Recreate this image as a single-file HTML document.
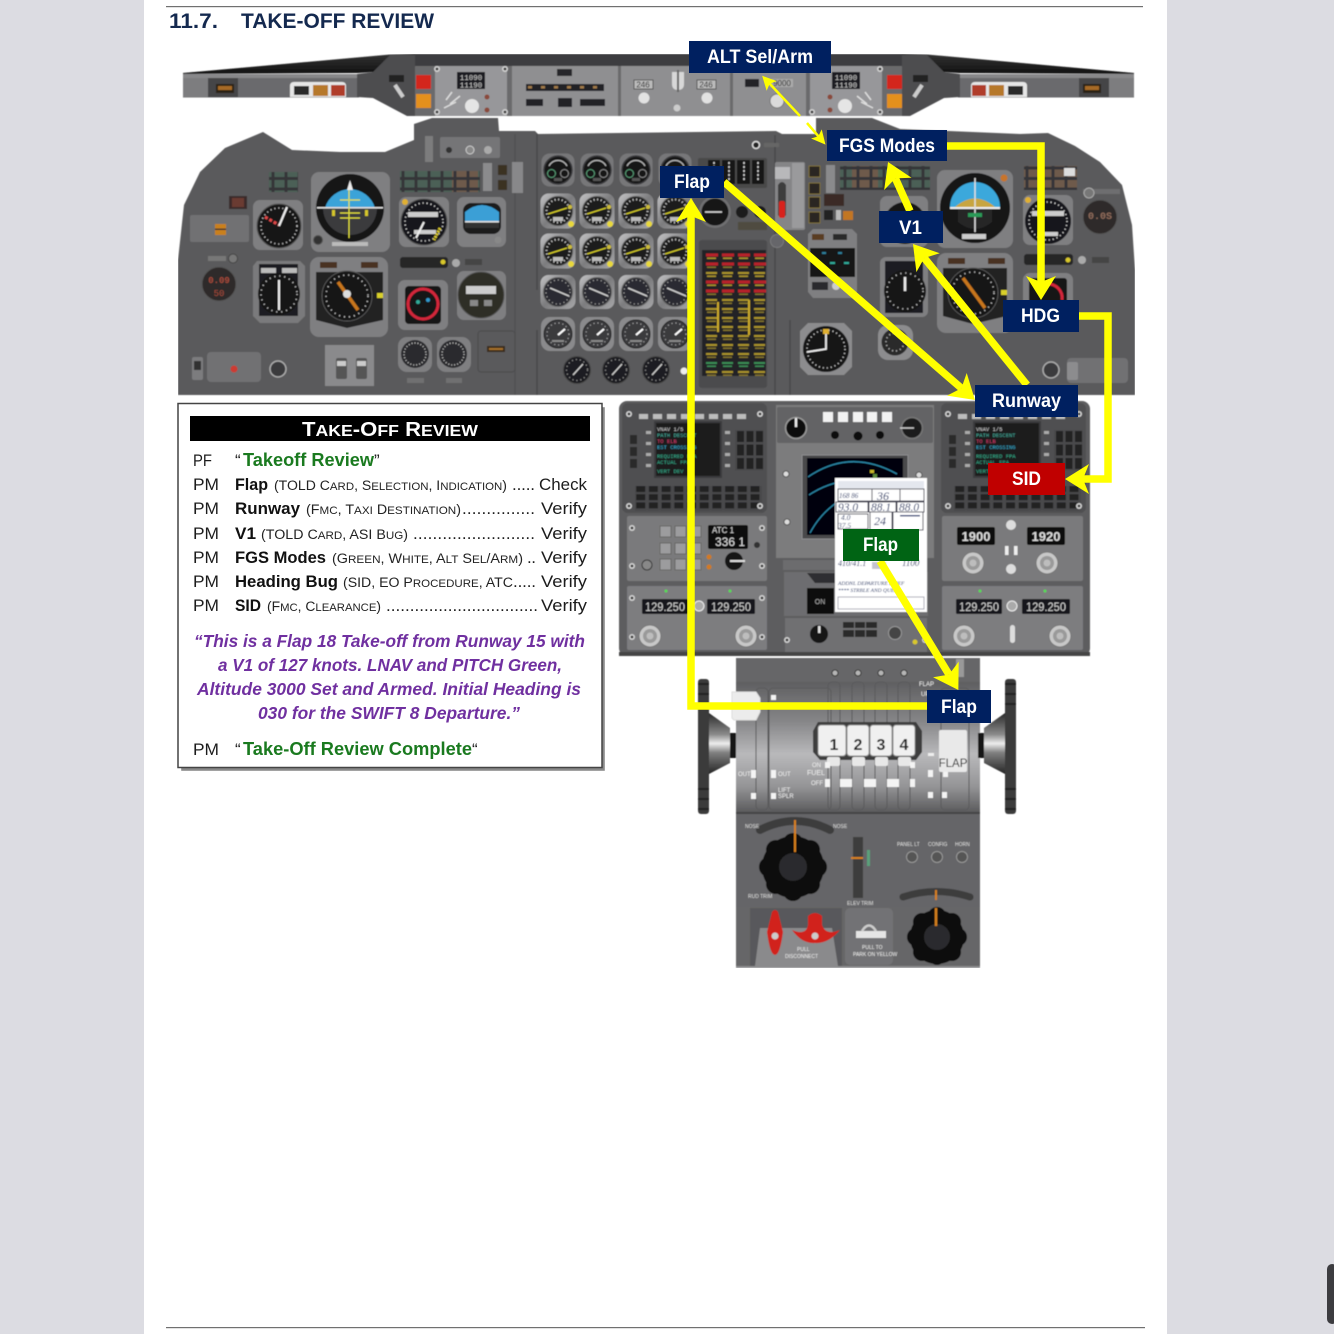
<!DOCTYPE html>
<html><head><meta charset="utf-8"><style>
html,body{margin:0;padding:0;background:#dcdce2;width:1334px;height:1334px;overflow:hidden}
svg{display:block;font-family:"Liberation Sans",sans-serif}
.s{font-size:17px;fill:#1c1c1c}.sm{font-size:13.5px;fill:#222}.b{font-size:17px;font-weight:bold;fill:#111}
.p{font-size:17.5px;font-weight:bold;font-style:italic;fill:#7030a0}
.g{font-size:18px;font-weight:bold;fill:#1a7a1f}
.l{font-size:19px;font-weight:bold;fill:#fff}
.mono{font-family:"Liberation Mono",monospace}
.hw{font-family:"Liberation Serif",serif;font-style:italic;fill:#16285e}
</style></head><body>
<svg width="1334" height="1334" viewBox="0 0 1334 1334" xmlns="http://www.w3.org/2000/svg">
<defs>
<marker id="ah" markerUnits="userSpaceOnUse" markerWidth="60" markerHeight="60" refX="30" refY="30" orient="auto" viewBox="0 0 60 60"><path d="M48,30 L24,15 L30,30 L24,45Z" fill="#ffff00"/></marker>
<marker id="as" markerUnits="userSpaceOnUse" markerWidth="30" markerHeight="30" refX="15" refY="15" orient="auto" viewBox="0 0 30 30"><path d="M25,15 L11,8 L14,15 L11,22Z" fill="#ffff00"/></marker>
<filter id="bl" x="0" y="0" width="100%" height="100%"><feGaussianBlur stdDeviation="0.55"/></filter>
<linearGradient id="sil" x1="0" y1="0" x2="1" y2="1"><stop offset="0" stop-color="#c4c4c6"/><stop offset=".5" stop-color="#7c7c7e"/><stop offset="1" stop-color="#a8a8aa"/></linearGradient>
<linearGradient id="thr" x1="0" y1="0" x2="0" y2="1"><stop offset="0" stop-color="#5f5f61"/><stop offset=".3" stop-color="#868688"/><stop offset=".55" stop-color="#b9b9bb"/><stop offset=".8" stop-color="#949496"/><stop offset="1" stop-color="#59595b"/></linearGradient>
<linearGradient id="whl" x1="0" y1="0" x2="0" y2="1"><stop offset="0" stop-color="#2a2a2a"/><stop offset=".35" stop-color="#8a8a8a"/><stop offset=".5" stop-color="#eeeeee"/><stop offset=".65" stop-color="#808080"/><stop offset="1" stop-color="#252525"/></linearGradient>
<linearGradient id="wedge" x1="0" y1="0" x2="0" y2="1"><stop offset="0" stop-color="#333"/><stop offset="1" stop-color="#111"/></linearGradient>
<pattern id="kp" width="12.7" height="8.2" patternUnits="userSpaceOnUse"><rect width="12.7" height="8.2" fill="#4a4a4c"/><rect x="1.5" y="1" width="9" height="6" fill="#202022"/></pattern>
<pattern id="kr" width="9.5" height="13.5" patternUnits="userSpaceOnUse"><rect width="9.5" height="13.5" fill="#4a4a4c"/><rect x="1" y="1" width="7" height="11" fill="#202022"/></pattern>
<pattern id="an" width="13" height="10.5" patternUnits="userSpaceOnUse"><rect width="13" height="10.5" fill="#353537"/><rect x="1.5" y="1.5" width="10" height="7.5" fill="#4c6157"/></pattern>
<pattern id="an2" width="13" height="10.5" patternUnits="userSpaceOnUse"><rect width="13" height="10.5" fill="#353537"/><rect x="1.5" y="1.5" width="10" height="7.5" fill="#6e5a4c"/></pattern>
<pattern id="wy" width="16" height="9" patternUnits="userSpaceOnUse"><rect width="16" height="9" fill="#242426"/><rect x="2" y="2" width="11" height="2" fill="#a8922c"/><rect x="3" y="5.5" width="9" height="1.5" fill="#7f6f2a"/></pattern>
<pattern id="wr" width="16" height="9" patternUnits="userSpaceOnUse"><rect width="16" height="9" fill="#242426"/><rect x="2" y="1.5" width="12" height="3" fill="#b8222a"/><rect x="3" y="5.5" width="9" height="1.5" fill="#a8922c"/></pattern>
<pattern id="wg" width="16" height="9" patternUnits="userSpaceOnUse"><rect width="16" height="9" fill="#242426"/><rect x="2" y="2" width="11" height="2" fill="#3a8a55"/><rect x="3" y="5.5" width="9" height="1.5" fill="#3a8a55"/></pattern>

<g id="scr"><circle r="3" fill="#d0d0d0"/><circle r="1.4" fill="#333"/></g>
<g id="gA"><rect x="-16.5" y="-16.5" width="33" height="33" rx="8" fill="#777779"/><circle r="14" fill="#141416" stroke="#3a3a3c" stroke-width="1.5"/><path d="M-9,-4 A10,10 0 0 1 9,-4" fill="none" stroke="#bbb" stroke-width="1.2"/><circle cx="-6.5" cy="3.5" r="4" fill="none" stroke="#8fb" stroke-width="1" opacity=".6"/><circle cx="6.5" cy="3.5" r="4" fill="none" stroke="#ddd" stroke-width="1" opacity=".6"/><rect x="-4" y="8" width="8" height="3" fill="#555"/></g>
<g id="gB"><rect x="-17.5" y="-17.5" width="35" height="35" rx="8" fill="url(#sil)"/><circle r="14.5" fill="#1c1c1e" stroke="#555" stroke-width="1"/><circle r="11.5" fill="none" stroke="#ccc" stroke-width="2" stroke-dasharray="1 2.6"/><path d="M-10,3 L9,-3" stroke="#d8d028" stroke-width="1.4"/><rect x="-5" y="6" width="10" height="4" fill="#bbb"/><circle cx="13" cy="13" r="3" fill="#e8d83a"/><circle cx="12" cy="-4" r="2.2" fill="#c9b93a"/></g>
<g id="gC"><rect x="-17.5" y="-17" width="35" height="34" rx="8" fill="url(#sil)"/><circle r="14.5" fill="#2c2c30" stroke="#666" stroke-width="1"/><circle r="12" fill="none" stroke="#aaa" stroke-width="1.2" stroke-dasharray="1 3"/><path d="M-8,-4 L11,4" stroke="#ccc" stroke-width="1.5"/></g>
<g id="gD"><rect x="-17" y="-17" width="34" height="34" rx="9" fill="#8a8a8c"/><circle r="14" fill="#3a3a3e" stroke="#222" stroke-width="1"/><circle r="11" fill="none" stroke="#aaa" stroke-width="1.2" stroke-dasharray="1 3"/><path d="M0,1 L7,-5" stroke="#fff" stroke-width="2"/><rect x="-6" y="6" width="12" height="2" fill="#888"/></g>
<g id="gE"><circle r="13.5" fill="#1e1e20" stroke="#444" stroke-width="1"/><circle r="10.5" fill="none" stroke="#999" stroke-width="1.2" stroke-dasharray="1 3"/><path d="M-4,5 L6,-6" stroke="#ccc" stroke-width="1.4"/></g>
<g id="knL"><circle r="11" fill="#c8c8c8" stroke="#777"/><circle r="7" fill="#9a9a9a"/><circle r="3.5" fill="#bdbdbd"/></g>
<g id="knD"><circle r="10.5" fill="#111" stroke="#999" stroke-width="1.5"/><rect x="-1.2" y="-10" width="2.4" height="9" fill="#eee"/></g>
<g id="cdu">
 <rect x="0" y="0" width="145" height="110" rx="6" fill="#4f4f51"/>
 <rect x="33" y="19" width="66" height="55" fill="#1d1d1f" stroke="#3a3a3c" stroke-width="2"/>
 <g fill="#bcbcbc"><rect x="17" y="11" width="9" height="5"/><rect x="31" y="11" width="9" height="5"/><rect x="45" y="11" width="9" height="5"/><rect x="59" y="11" width="9" height="5"/><rect x="73" y="11" width="9" height="5"/><rect x="87" y="11" width="9" height="5"/><rect x="101" y="11" width="9" height="5"/><rect x="115" y="11" width="9" height="5"/></g>
 <rect x="13" y="83" width="127" height="24.6" fill="url(#kp)"/>
 <rect x="113" y="27" width="28.5" height="40.5" fill="url(#kr)"/>
 <g fill="#2a2a2c"><rect x="8" y="32" width="7" height="9"/><rect x="8" y="44" width="7" height="9"/><rect x="8" y="56" width="7" height="9"/></g>
 <g fill="#aaa"><rect x="24" y="28" width="5" height="3"/><rect x="24" y="39" width="5" height="3"/><rect x="24" y="50" width="5" height="3"/><rect x="24" y="61" width="5" height="3"/><rect x="103" y="28" width="5" height="3"/><rect x="103" y="39" width="5" height="3"/><rect x="103" y="50" width="5" height="3"/><rect x="103" y="61" width="5" height="3"/></g>
 <use href="#scr" x="7" y="11"/><use href="#scr" x="138" y="11"/><use href="#scr" x="7" y="103"/><use href="#scr" x="138" y="103"/>
</g>
</defs>

<rect x="144" y="0" width="1023" height="1334" fill="#ffffff"/>
<rect x="166" y="6" width="977" height="1.2" fill="#707070"/>
<rect x="166" y="1327" width="979" height="1.2" fill="#707070"/>
<rect x="1327" y="1264" width="10" height="60" rx="5" fill="#3c3c40"/>
<text x="169" y="28" font-size="21" font-weight="bold" fill="#14294f" textLength="49" lengthAdjust="spacingAndGlyphs">11.7.</text>
<text x="241" y="28" font-size="21" font-weight="bold" fill="#14294f" textLength="193" lengthAdjust="spacingAndGlyphs">TAKE-OFF REVIEW</text>

<g filter="url(#bl)">
<!-- GLARESHIELD -->
<g id="gs-left">
<path d="M183,73 L390,54.5 L415,54 L415,66 L373,72 L358,73 L183,74Z" fill="url(#wedge)"/>
<rect x="183" y="74" width="176" height="23.5" fill="#6b6b6d"/>
<rect x="183" y="74" width="176" height="4" fill="#88888a"/>
<rect x="183" y="78" width="25" height="19" fill="#7d7d7f"/>
<rect x="208" y="78" width="30" height="19" fill="#444446"/>
<rect x="216" y="84" width="18" height="9" fill="#2a2018"/><rect x="218" y="86" width="14" height="4" fill="#a66a28"/>
<path d="M290,97 L290,86 Q290,82 294,82 L342,82 Q346,82 346,86 L346,97Z" fill="#e6e6e6"/>
<rect x="294" y="86" width="15" height="9" fill="#2a2a2c"/><rect x="313" y="85" width="15" height="11" fill="#b6782a"/><rect x="331" y="85" width="14" height="11" fill="#b03c2c"/>
<path d="M390,55 L415,55 L415,116 L407,116 L373,98 L357,97 L357,74 L373,72Z" fill="#4e4e50"/>
<rect x="389" y="75" width="15" height="7" fill="#222"/><path d="M395,85 L403,97" stroke="#ccc" stroke-width="4"/>
</g>
<use href="#gs-left" transform="translate(1317,0) scale(-1,1)"/>
<rect x="415" y="54" width="487" height="12" fill="#3d3d3f"/>
<rect x="415" y="66" width="487" height="50" fill="#6a6a6c"/>
<rect x="435" y="66" width="72" height="50" fill="#97979a"/>
<rect x="457" y="72" width="28" height="17" fill="#1e1e20"/>
<circle cx="472" cy="106" r="7" fill="#e5e5e5"/><circle cx="487" cy="97" r="2.5" fill="#8a4a3a"/><circle cx="487" cy="110" r="2.5" fill="#8a4a3a"/>
<path d="M446,100 L452,92 M450,104 L460,96 M444,108 L456,102" stroke="#ddd" stroke-width="1.5"/>
<use href="#scr" x="437" y="69"/><use href="#scr" x="505" y="69"/><use href="#scr" x="437" y="112"/><use href="#scr" x="505" y="112"/>
<rect x="810" y="66" width="72" height="50" fill="#97979a"/>
<rect x="832" y="72" width="28" height="17" fill="#1e1e20"/>
<circle cx="845" cy="106" r="7" fill="#e5e5e5"/><circle cx="830" cy="97" r="2.5" fill="#8a4a3a"/><circle cx="830" cy="110" r="2.5" fill="#8a4a3a"/>
<path d="M871,100 L865,92 M867,104 L857,96 M873,108 L861,102" stroke="#ddd" stroke-width="1.5"/>
<use href="#scr" x="812" y="69"/><use href="#scr" x="880" y="69"/><use href="#scr" x="812" y="112"/><use href="#scr" x="880" y="112"/>
<text x="471" y="80" font-size="7.5" fill="#c8c8c8" text-anchor="middle" class="mono">11090</text><text x="471" y="87.5" font-size="7.5" fill="#c8c8c8" text-anchor="middle" class="mono">11190</text>
<text x="846" y="80" font-size="7.5" fill="#c8c8c8" text-anchor="middle" class="mono">11090</text><text x="846" y="87.5" font-size="7.5" fill="#c8c8c8" text-anchor="middle" class="mono">11190</text>
<rect x="416" y="75" width="15" height="14" fill="#d3271d"/><rect x="416" y="94" width="15" height="14" fill="#e4901a"/>
<rect x="887" y="75" width="15" height="14" fill="#d3271d"/><rect x="887" y="94" width="15" height="14" fill="#e4901a"/>
<rect x="512" y="66" width="106" height="50" fill="#8f8f91"/>
<rect x="557" y="69" width="15" height="7" fill="#28282a"/>
<rect x="526" y="84" width="78" height="7" fill="#232325"/>
<rect x="526" y="99" width="17" height="7" fill="#232325"/><rect x="558" y="98" width="14" height="9" fill="#232325"/><rect x="580" y="99" width="25" height="7" fill="#232325"/>
<g fill="#a07a4a"><rect x="528" y="86" width="4" height="2.5"/><rect x="541" y="86" width="4" height="2.5"/><rect x="554" y="86" width="4" height="2.5"/><rect x="567" y="86" width="4" height="2.5"/><rect x="580" y="86" width="4" height="2.5"/><rect x="593" y="86" width="4" height="2.5"/></g>
<rect x="621" y="66" width="109" height="50" fill="#8f8f91"/>
<rect x="634" y="80" width="19" height="9" fill="#bbb" stroke="#555"/><text x="643" y="87.5" font-size="8" text-anchor="middle" fill="#222">246</text>
<rect x="697" y="80" width="19" height="9" fill="#bbb" stroke="#555"/><text x="706" y="87.5" font-size="8" text-anchor="middle" fill="#222">246</text>
<circle cx="644" cy="98" r="5.5" fill="#e2e2e2"/><circle cx="707" cy="98" r="5.5" fill="#e2e2e2"/>
<path d="M672,72 h12 v12 q0,6 -6,6 q-6,0 -6,-6Z" fill="#d8d8d8"/><rect x="677" y="70" width="2" height="22" fill="#666"/><circle cx="677" cy="108" r="3.5" fill="#ccc"/>
<rect x="733" y="66" width="73" height="50" fill="#8f8f91"/>
<rect x="745" y="79" width="14" height="8" fill="#232325"/><rect x="770" y="79" width="23" height="8" fill="#aaa"/>
<text x="782" y="86" font-size="8" text-anchor="middle" fill="#222">9000</text>
<circle cx="777" cy="101" r="7" fill="#dadada" stroke="#777"/>

<!-- MAIN PANEL -->
<path d="M178,395 L178,260 L184,205 L200,172 L225,148 L263,132 L292,150 L340,152 L385,152 L414,140 L414,124 L432,118 L498,118 L499,131 L535,131 L538,134 L776,131 L782,134 L816,134 L816,118 L872,118 L900,129 L1020,134 L1048,133 L1075,146 L1100,162 L1122,185 L1132,225 L1135,270 L1135,395Z" fill="#5a5a5c"/>
<path d="M537,134 V290 M537,330 V395 M775,135 V395 M790,320 V395" stroke="#49494b" stroke-width="1.5" fill="none"/>
<path d="M515,134 V395" stroke="#4d4d4f" stroke-width="1" fill="none"/>

<!-- left small panels -->
<rect x="190" y="215" width="59" height="27" rx="2" fill="#717173"/><rect x="215" y="224" width="11" height="11" fill="#c9801e"/><rect x="215" y="228.5" width="11" height="1.5" fill="#333"/>
<rect x="229" y="196" width="18" height="13" fill="#3a2a2a"/><rect x="232" y="198" width="12" height="9" fill="#6a3a30"/>
<rect x="269" y="172" width="29" height="20" fill="url(#an)"/>
<circle cx="219" cy="284" r="17" fill="#2e2a2a" stroke="#555"/><text x="219" y="283" font-size="9" text-anchor="middle" fill="#a54a3a" class="mono" font-weight="bold">0.09</text><text x="219" y="296" font-size="9" text-anchor="middle" fill="#a54a3a" class="mono">50</text>
<rect x="208" y="256" width="18" height="5" fill="#777"/><circle cx="233" cy="258.5" r="4.5" fill="#777" stroke="#444"/>
<rect x="207" y="352" width="54" height="30" rx="4" fill="#717173"/><circle cx="234" cy="369" r="3.5" fill="#cc3a30"/><rect x="192" y="357" width="11" height="23" rx="2" fill="#7c7c7e"/><rect x="194" y="361" width="7" height="9" fill="#333"/>
<circle cx="278" cy="369" r="8" fill="#3a3a3c" stroke="#aaa" stroke-width="1.5"/>
<rect x="325" y="345" width="49" height="41" fill="#8a8a8c"/><rect x="336" y="358" width="11" height="21" rx="2" fill="#555"/><rect x="356" y="358" width="11" height="21" rx="2" fill="#555"/><rect x="337" y="361" width="9" height="5" fill="#ccc"/><rect x="357" y="361" width="9" height="5" fill="#ccc"/>
<rect x="478" y="331" width="37" height="41" rx="3" fill="none" stroke="#4c4c4e"/><rect x="487" y="346" width="18" height="6" fill="#3a2a1e"/><rect x="489" y="348" width="14" height="2" fill="#a5702a"/>
<rect x="425" y="136" width="8" height="26" fill="#7b7b7d"/><rect x="440" y="137" width="60" height="21" rx="2" fill="#757577"/><circle cx="470" cy="150" r="4" fill="#888" stroke="#ccc"/><circle cx="488" cy="150" r="4" fill="#aaa"/><circle cx="449" cy="150" r="3" fill="#333"/>
<rect x="400" y="171" width="80" height="21" fill="url(#an)"/><rect x="452" y="171" width="26" height="21" fill="url(#an2)"/>
<rect x="483" y="163" width="9" height="28" fill="#8b8b8d"/><rect x="498" y="165" width="9" height="10" fill="#3a3020"/><rect x="498" y="180" width="9" height="10" fill="#3a3020"/><rect x="512" y="162" width="11" height="31" fill="#88888a"/>

<!-- ADI left -->
<rect x="311" y="172" width="79" height="80" rx="8" fill="#7f7f81"/>
<circle cx="350" cy="208" r="34" fill="#171719"/>
<path d="M325,208 A26,26 0 0 1 375,208 Z" fill="#3ba3d8"/>
<path d="M323,208 H377 A27,27 0 0 1 323,208Z" fill="#3a3a3c"/>
<rect x="317" y="207" width="66" height="1.5" fill="#ddd"/>
<path d="M349,190 V238 M340,200 H360 M340,213 H360 M340,218 H360" stroke="#e3e03a" stroke-width="1.2"/>
<path d="M350,180 L347,190 H353Z" fill="#eee"/><path d="M332,210 h3 v6 h-3z M365,210 h3 v6 h-3z" fill="#d6c72c"/>
<circle cx="318" cy="240" r="4.5" fill="#333" stroke="#555"/><rect x="332" y="242" width="36" height="4" fill="#bbb"/>
<!-- ASI left -->
<rect x="253" y="200" width="50" height="50" rx="7" fill="#7f7f81"/>
<circle cx="279" cy="226" r="22" fill="#121214" stroke="#555"/><circle cx="279" cy="226" r="18" fill="none" stroke="#ccc" stroke-width="1.5" stroke-dasharray="1 3"/>
<path d="M265,217 L279,225" stroke="#e04a4a" stroke-width="3" stroke-dasharray="3 2"/><path d="M279,226 L287,207" stroke="#eee" stroke-width="2.2"/>
<!-- clock left -->
<rect x="399" y="197" width="50" height="50" rx="7" fill="#7f7f81"/>
<circle cx="424" cy="222" r="23" fill="#18181a" stroke="#555"/><circle cx="424" cy="222" r="19" fill="none" stroke="#ddd" stroke-width="1.5" stroke-dasharray="1 3"/>
<rect x="408" y="212" width="30" height="5" fill="#ccc"/><rect x="414" y="230" width="22" height="4" fill="#ccc"/><path d="M424,222 L416,238" stroke="#eee" stroke-width="2"/><path d="M440,228 L434,240" stroke="#d9c82a" stroke-width="3" stroke-dasharray="2 1"/><circle cx="405" cy="202" r="3" fill="#e0b030"/>
<!-- standby left -->
<rect x="457" y="197" width="49" height="50" rx="7" fill="#7f7f81"/>
<rect x="463" y="203" width="38" height="31" rx="8" fill="#1a1a1c"/><path d="M465,221 V212 Q482,198 499,212 V221Z" fill="#3b9fd6"/><rect x="465" y="221" width="34" height="7" fill="#333"/><rect x="465" y="221" width="34" height="1.5" fill="#ddd"/><circle cx="498" cy="240" r="3.5" fill="#888"/>
<!-- ALT left -->
<path d="M257,261 H300 L305,266 V316 L298,323 H260 L253,316 V266Z" fill="#7a7a7c"/>
<rect x="259" y="264" width="39" height="52" fill="#1f1f21"/><circle cx="279" cy="294" r="21" fill="#161618"/><circle cx="279" cy="294" r="18" fill="none" stroke="#ccc" stroke-width="1.5" stroke-dasharray="1 4"/><path d="M279,294 V280 M279,294 V310" stroke="#eee" stroke-width="2"/>
<rect x="261" y="268" width="15" height="5" fill="#bbb"/><rect x="282" y="268" width="15" height="5" fill="#bbb"/>
<!-- HSI left -->
<rect x="310" y="257" width="78" height="80" rx="9" fill="#7f7f81"/>
<path d="M316,272 H383 V320 L347,328 L316,320Z" fill="#222224"/>
<circle cx="347" cy="296" r="25" fill="#161618" stroke="#555"/><circle cx="347" cy="296" r="21" fill="none" stroke="#ccc" stroke-width="1.5" stroke-dasharray="1 4"/>
<path d="M338,282 L358,310" stroke="#c8761e" stroke-width="3.5"/><circle cx="347" cy="294" r="4" fill="#ddd"/><rect x="320" y="262" width="17" height="6" fill="#4a3320"/><rect x="361" y="262" width="17" height="6" fill="#4a3320"/><path d="M377,293 h6 v5 h-6z" fill="#d9d02a"/>
<!-- Radar/CAS -->
<rect x="398" y="280" width="50" height="50" rx="7" fill="#7f7f81"/><rect x="405" y="286" width="36" height="38" rx="4" fill="#141416"/><circle cx="423" cy="304" r="15" fill="none" stroke="#d2283a" stroke-width="3"/><circle cx="418" cy="302" r="2" fill="#3a9"/><circle cx="428" cy="300" r="2" fill="#39c"/>
<!-- olive -->
<rect x="457" y="271" width="49" height="49" rx="7" fill="#7f7f81"/><circle cx="481" cy="295" r="23" fill="#2e2d26" stroke="#555"/><rect x="466" y="286" width="30" height="8" fill="#ccc"/><rect x="470" y="300" width="8" height="6" fill="#888"/><rect x="484" y="300" width="8" height="6" fill="#888"/>
<rect x="400" y="257" width="48" height="11" rx="3" fill="#262628"/><circle cx="443" cy="262" r="2.5" fill="#d9c82a"/><circle cx="456" cy="263" r="4" fill="#aaa"/><rect x="465" y="259" width="17" height="6" fill="#444"/>
<!-- hyd -->
<rect x="398" y="337" width="34" height="35" rx="9" fill="#7f7f81"/><circle cx="415" cy="354" r="14" fill="#2c2c2e"/><circle cx="415" cy="354" r="11" fill="none" stroke="#bbb" stroke-width="1.5" stroke-dasharray="1 2"/>
<rect x="437" y="337" width="34" height="35" rx="9" fill="#7f7f81"/><circle cx="453" cy="354" r="14" fill="#2c2c2e"/><circle cx="453" cy="354" r="11" fill="none" stroke="#bbb" stroke-width="1.5" stroke-dasharray="1 2"/>
<rect x="407" y="378" width="17" height="5" fill="#6f6f71"/><rect x="446" y="378" width="16" height="5" fill="#6f6f71"/>

<!-- gauges column -->
<use href="#gA" x="558" y="170"/><use href="#gA" x="597" y="170"/><use href="#gA" x="636" y="170"/><use href="#gA" x="675" y="170"/>
<use href="#gB" x="558" y="211"/><use href="#gB" x="597" y="211"/><use href="#gB" x="636" y="211"/><use href="#gB" x="675" y="211"/>
<use href="#gB" x="558" y="251"/><use href="#gB" x="597" y="251"/><use href="#gB" x="636" y="251"/><use href="#gB" x="675" y="251"/>
<use href="#gC" x="558" y="292"/><use href="#gC" x="597" y="292"/><use href="#gC" x="636" y="292"/><use href="#gC" x="675" y="292"/>
<use href="#gD" x="558" y="334"/><use href="#gD" x="597" y="334"/><use href="#gD" x="636" y="334"/><use href="#gD" x="675" y="334"/>
<use href="#gE" x="577" y="370"/><use href="#gE" x="616" y="370"/><use href="#gE" x="656" y="370"/>
<circle cx="684" cy="371" r="3.5" fill="#eee"/>
<circle cx="756" cy="145" r="3.5" fill="#222" stroke="#ddd" stroke-width="1.5"/><rect x="764" y="143" width="15" height="4" fill="#666"/>
<!-- flap indicator -->
<rect x="698" y="158" width="69" height="30" rx="2" fill="#48484a"/>
<g fill="#141416"><rect x="708" y="160" width="12" height="24"/><rect x="722" y="160" width="13" height="24"/><rect x="737" y="160" width="13" height="24"/><rect x="752" y="160" width="12" height="24"/></g>
<g stroke="#ddd" stroke-width="1.5" stroke-dasharray="2 2"><path d="M714,162 V182 M729,162 V182 M744,162 V182 M758,162 V182"/></g>
<circle cx="715" cy="212" r="16" fill="#6f6f71"/><circle cx="715" cy="212" r="13.5" fill="#131315"/><path d="M705,212 H722" stroke="#ddd" stroke-width="1.6"/>
<circle cx="742" cy="212" r="6" fill="#1a1a1c"/><circle cx="760" cy="212" r="6" fill="#1a1a1c"/>
<rect x="738" y="222" width="29" height="8" fill="#4f4b40"/>
<circle cx="777" cy="241" r="6.5" fill="#66666a" stroke="#7a7a7c"/>
<!-- annunciator grid -->
<rect x="699" y="240" width="68" height="148" rx="3" fill="#4c4c4e"/>
<rect x="702" y="250" width="64" height="16" fill="url(#wr)"/><rect x="702" y="266" width="64" height="9" fill="url(#wy)"/><rect x="702" y="275" width="64" height="18" fill="url(#wr)"/><rect x="702" y="293" width="64" height="65" fill="url(#wy)"/><rect x="702" y="358" width="64" height="9" fill="url(#wg)"/><rect x="702" y="367" width="64" height="9" fill="url(#wy)"/>
<rect x="717" y="302" width="2" height="30" fill="#c9a92a"/><rect x="748" y="300" width="2" height="35" fill="#c9a92a"/>
<!-- lever strip -->
<rect x="775" y="162" width="30" height="68" rx="2" fill="#858587"/><rect x="792" y="163" width="12" height="65" fill="#9a9a9c"/><rect x="775" y="167" width="15" height="12" fill="#b8b8ba"/><path d="M778,185 q4,-6 8,0 v30 q-4,6 -8,0Z" fill="#3c3c3e"/><rect x="779" y="201" width="6" height="17" rx="2" fill="#d8221e"/>
<g fill="#2a2620" stroke="#8a7a3a" stroke-width="0.8"><rect x="809" y="166" width="11" height="11"/><rect x="809" y="183" width="11" height="11"/><rect x="809" y="197" width="11" height="11"/><rect x="809" y="212" width="11" height="11"/></g>
<rect x="826" y="165" width="9" height="28" fill="#8a8a8c"/><rect x="824" y="210" width="9" height="10" fill="#222"/><rect x="836" y="210" width="5" height="10" fill="#bbb"/><rect x="843" y="211" width="10" height="9" fill="#c27624"/>
<rect x="824" y="194" width="20" height="12" fill="#3a2a28"/>
<rect x="840" y="166" width="90" height="24" fill="url(#an)"/><rect x="852" y="166" width="26" height="24" fill="url(#an2)"/>
<!-- CPCS -->
<path d="M813,229 H852 L857,234 V292 L852,298 H813 L808,292 V234Z" fill="#7f7f81"/><rect x="810" y="248" width="45" height="29" fill="#171719"/><g fill="#39b" opacity=".8"><rect x="822" y="252" width="4" height="2"/><rect x="838" y="252" width="4" height="2"/></g><g fill="#3a9"><rect x="814" y="262" width="5" height="2"/><rect x="830" y="262" width="5" height="2"/><rect x="844" y="262" width="5" height="2"/></g>
<rect x="812" y="234" width="12" height="6" fill="#5a3c22"/><rect x="833" y="234" width="14" height="6" fill="#2a2a2a"/><rect x="812" y="282" width="16" height="8" fill="#2c2c2e"/><circle cx="836" cy="286" r="4" fill="#ccc"/>
<!-- big gauge -->
<path d="M808,323 H844 L852,331 V367 L844,375 H808 L800,367 V331Z" fill="#8c8c8e"/><circle cx="826" cy="349" r="23" fill="#141416"/><circle cx="826" cy="349" r="19" fill="none" stroke="#ccc" stroke-width="1.5" stroke-dasharray="1 3"/><path d="M807,352 L826,349 L826,331" stroke="#eee" stroke-width="1.8" fill="none"/><rect x="823" y="329" width="6" height="5" fill="#e0b030"/>
<rect x="878" y="325" width="35" height="35" rx="10" fill="#8c8c8e"/><circle cx="895" cy="342" r="13.5" fill="#2a2a2c"/><circle cx="895" cy="342" r="9" fill="none" stroke="#bbb" stroke-width="1.5" stroke-dasharray="1 3"/>
<!-- right side instruments -->
<rect x="880" y="196" width="48" height="51" rx="7" fill="#7f7f81"/><circle cx="905" cy="223" r="21" fill="#131315"/>
<rect x="937" y="170" width="76" height="78" rx="8" fill="#7f7f81"/><circle cx="975" cy="208" r="35" fill="#171719"/>
<path d="M950,207 A24,24 0 0 1 1000,207Z" fill="#3ba8dc"/><path d="M955,207 Q975,190 995,207Z" fill="#e0a425" opacity=".85"/>
<path d="M958,207 H992 V222 Q975,236 958,222Z" fill="#262628"/><rect x="950" y="207" width="50" height="2" fill="#eee"/><path d="M975,178 V232" stroke="#e0e0e0" stroke-width="1.5"/><rect x="968" y="213" width="14" height="4" fill="#2c9a58"/><circle cx="1004" cy="178" r="3.5" fill="#c8742c"/><rect x="962" y="234" width="24" height="5" fill="#ccc"/>
<rect x="1023" y="195" width="50" height="50" rx="7" fill="#7f7f81"/><circle cx="1048" cy="221" r="23" fill="#18181a"/><circle cx="1048" cy="221" r="19" fill="none" stroke="#ddd" stroke-width="1.5" stroke-dasharray="1 3"/><rect x="1032" y="211" width="32" height="5" fill="#ccc"/><rect x="1038" y="232" width="20" height="4" fill="#ccc"/><circle cx="1028" cy="200" r="3" fill="#e0b030"/>
<circle cx="1100" cy="217" r="17" fill="#2e2a2a" stroke="#555"/><text x="1100" y="219" font-size="10" text-anchor="middle" fill="#8e6a5a" class="mono" font-weight="bold">0.0S</text>
<rect x="1083" y="189" width="37" height="5" fill="#6e6e70"/><circle cx="1089" cy="193" r="5" fill="#777" stroke="#aaa"/>
<rect x="1024" y="166" width="53" height="24" fill="url(#an2)"/><rect x="1064" y="168" width="11" height="8" fill="#ddd"/>
<rect x="880" y="257" width="48" height="60" rx="6" fill="#7f7f81"/><rect x="885" y="261" width="38" height="52" fill="#1f1f21"/><circle cx="905" cy="291" r="21" fill="#161618"/><circle cx="905" cy="291" r="18" fill="none" stroke="#ccc" stroke-width="1.5" stroke-dasharray="1 4"/><path d="M905,291 V277" stroke="#eee" stroke-width="2.5"/>
<rect x="937" y="253" width="76" height="80" rx="9" fill="#7f7f81"/><path d="M943,268 H1007 V316 L973,324 L943,316Z" fill="#222224"/><circle cx="973" cy="293" r="25" fill="#161618" stroke="#555"/><circle cx="973" cy="293" r="21" fill="none" stroke="#ccc" stroke-width="1.5" stroke-dasharray="1 4"/><path d="M963,278 L985,308" stroke="#c8761e" stroke-width="3.5"/><rect x="948" y="258" width="17" height="6" fill="#4a3320"/><rect x="988" y="258" width="17" height="6" fill="#4a3320"/><path d="M1001,290 h6 v5 h-6z" fill="#d9d02a"/>
<rect x="1024" y="254" width="49" height="11" rx="3" fill="#262628"/><circle cx="1068" cy="260" r="2.5" fill="#d9c82a"/><circle cx="1082" cy="260" r="4" fill="#aaa"/><rect x="1092" y="257" width="17" height="6" fill="#444"/>
<rect x="1023" y="273" width="50" height="45" rx="7" fill="#7f7f81"/><rect x="1029" y="278" width="38" height="36" rx="3" fill="#141416"/><path d="M1047,284 A14,14 0 0 1 1062,300" fill="none" stroke="#d2283a" stroke-width="3"/>
<circle cx="1051" cy="370" r="8" fill="#3a3a3c" stroke="#aaa" stroke-width="1.5"/><rect x="1067" y="358" width="61" height="25" rx="4" fill="#717173"/><rect x="1067" y="362" width="11" height="18" rx="2" fill="#8c8c8e"/>

<!-- CONSOLE -->
<rect x="619" y="401" width="471" height="255" rx="8" fill="#5d5d5f"/>
<rect x="619" y="652" width="471" height="4" fill="#444"/>
<use href="#cdu" x="622" y="403"/><use href="#cdu" x="941" y="403"/>
<text class="mono" font-size="5.5" fill="#8ac"><tspan x="657" y="431" fill="#ccc">  VNAV 1/5</tspan><tspan x="657" y="437" fill="#4a9">PATH DESCENT</tspan><tspan x="657" y="443" fill="#d23a6a">TO ELB</tspan><tspan x="657" y="449" fill="#3ac">EST CROSSING</tspan><tspan x="657" y="458" fill="#3a8">REQUIRED FPA</tspan><tspan x="657" y="464" fill="#3a8">ACTUAL FPA</tspan><tspan x="657" y="473" fill="#3a8">VERT DEV</tspan></text>
<text class="mono" font-size="5.5" fill="#8ac"><tspan x="976" y="431" fill="#ccc">  VNAV 1/5</tspan><tspan x="976" y="437" fill="#4a9">PATH DESCENT</tspan><tspan x="976" y="443" fill="#d23a6a">TO ELB</tspan><tspan x="976" y="449" fill="#3ac">EST CROSSING</tspan><tspan x="976" y="458" fill="#3a8">REQUIRED FPA</tspan><tspan x="976" y="464" fill="#3a8">ACTUAL FPA</tspan><tspan x="976" y="473" fill="#3a8">VERT DEV</tspan></text>
<!-- ATC -->
<rect x="627" y="516" width="140" height="65" rx="2" fill="#7a7a7c"/>
<rect x="708" y="525" width="40" height="24" rx="2" fill="#111"/><text x="712" y="533" font-size="8" fill="#ddd">ATC 1</text><text x="715" y="546" font-size="12" fill="#ddd" textLength="30" lengthAdjust="spacingAndGlyphs">336 1</text>
<g fill="#9c9c9e" stroke="#666"><rect x="660" y="526" width="11" height="11"/><rect x="675" y="526" width="11" height="11"/><rect x="690" y="526" width="11" height="11"/><rect x="660" y="543" width="11" height="11"/><rect x="675" y="543" width="11" height="11"/><rect x="690" y="543" width="11" height="11"/><rect x="660" y="559" width="11" height="11"/><rect x="675" y="559" width="11" height="11"/><rect x="690" y="559" width="11" height="11"/></g>
<circle cx="734" cy="561" r="9" fill="#151517"/><path d="M730,561 H745" stroke="#ddd" stroke-width="2"/><circle cx="709" cy="557" r="2.5" fill="#d07a20"/><circle cx="709" cy="567" r="2.5" fill="#d07a20"/><circle cx="647" cy="565" r="5" fill="#888" stroke="#333"/><use href="#scr" x="632" y="528"/><use href="#scr" x="762" y="528"/><use href="#scr" x="632" y="566"/><use href="#scr" x="762" y="566"/>
<circle cx="757" cy="545" r="3" fill="#333"/>
<!-- VHF L -->
<rect x="627" y="586" width="140" height="64" rx="2" fill="#7d7d7f"/>
<rect x="642" y="599" width="46" height="15" rx="1.5" fill="#19191b"/><text x="645" y="611" font-size="12" fill="#d0d0d0" textLength="40" lengthAdjust="spacingAndGlyphs">129.250</text>
<rect x="707" y="599" width="48" height="15" rx="1.5" fill="#19191b"/><text x="711" y="611" font-size="12" fill="#d0d0d0" textLength="40" lengthAdjust="spacingAndGlyphs">129.250</text>
<circle cx="699" cy="606" r="5" fill="#aaa" stroke="#eee"/><use href="#knL" x="650" y="636"/><use href="#knL" x="746" y="636"/><circle cx="666" cy="591" r="1.5" fill="#5d5"/><circle cx="730" cy="591" r="1.5" fill="#5d5"/>
<use href="#scr" x="632" y="598"/><use href="#scr" x="762" y="598"/><use href="#scr" x="632" y="637"/><use href="#scr" x="762" y="637"/>
<!-- ADF -->
<rect x="942" y="516" width="141" height="65" rx="2" fill="#7a7a7c"/>
<rect x="957" y="527" width="38" height="18" rx="2" fill="#111"/><text x="976" y="541" font-size="13" font-weight="bold" text-anchor="middle" fill="#ddd">1900</text>
<rect x="1027" y="527" width="38" height="18" rx="2" fill="#111"/><text x="1046" y="541" font-size="13" font-weight="bold" text-anchor="middle" fill="#ddd">1920</text>
<use href="#knL" x="973" y="563"/><use href="#knL" x="1047" y="563"/><circle cx="1011" cy="525" r="5" fill="#ddd"/><circle cx="1011" cy="569" r="5" fill="#ddd"/><rect x="1005" y="546" width="3.5" height="9" fill="#eee"/><rect x="1014" y="546" width="3.5" height="9" fill="#eee"/>
<!-- VHF R -->
<rect x="942" y="586" width="141" height="64" rx="2" fill="#7d7d7f"/>
<rect x="956" y="599" width="46" height="15" rx="1.5" fill="#19191b"/><text x="959" y="611" font-size="12" fill="#d0d0d0" textLength="40" lengthAdjust="spacingAndGlyphs">129.250</text>
<rect x="1022" y="599" width="48" height="15" rx="1.5" fill="#19191b"/><text x="1026" y="611" font-size="12" fill="#d0d0d0" textLength="40" lengthAdjust="spacingAndGlyphs">129.250</text>
<circle cx="1012" cy="606" r="5" fill="#aaa" stroke="#eee"/><use href="#knL" x="964" y="636"/><use href="#knL" x="1060" y="636"/><rect x="1010" y="625" width="5" height="18" rx="2.5" fill="#ddd"/>
<circle cx="980" cy="591" r="1.5" fill="#5d5"/><circle cx="1045" cy="591" r="1.5" fill="#5d5"/>
<!-- centre console -->
<rect x="776" y="405" width="158" height="153" fill="#7b7b7d"/>
<rect x="777" y="407" width="156" height="36" rx="2" fill="#636365"/>
<g fill="#f2f2f2"><rect x="823" y="412" width="10" height="10"/><rect x="838" y="412" width="10" height="10"/><rect x="853" y="412" width="10" height="10"/><rect x="867" y="412" width="10" height="10"/><rect x="882" y="412" width="10" height="10"/></g>
<use href="#knD" x="796" y="428"/><circle cx="912" cy="428" r="10.5" fill="#1d1d1f" stroke="#777" stroke-width="1.5"/><path d="M900,428 H914" stroke="#ccc" stroke-width="1.5"/>
<circle cx="835" cy="435" r="4" fill="#111"/><circle cx="858" cy="436" r="4.5" fill="#111"/><circle cx="880" cy="435" r="4" fill="#111"/>
<rect x="802" y="455" width="106" height="84" fill="#4a4a4c" stroke="#8c8c8e"/><rect x="807" y="458" width="96" height="77" fill="#050507"/>
<g fill="none" stroke="#2c86a8" stroke-width="1.3"><path d="M808,477 Q850,448 897,474"/><path d="M809,495 Q850,468 897,492"/><path d="M810,533 Q830,495 880,485"/><path d="M850,533 Q858,515 880,510"/></g>
<circle cx="786" cy="474" r="3" fill="#ddd" stroke="#555"/><circle cx="787" cy="522" r="3" fill="#ddd" stroke="#555"/><circle cx="919" cy="475" r="3" fill="#ddd" stroke="#555"/><rect x="870" y="470" width="4" height="3" fill="#c9b92a"/><rect x="873" y="474" width="4" height="4" fill="#5c8a3a"/>
<rect x="783" y="560" width="144" height="10" fill="#6c6c6e"/>
<rect x="784" y="572" width="144" height="44" fill="#6d6d6f"/><path d="M807,573 h28 v10 h-20z" fill="#2e2e30"/>
<rect x="807" y="588" width="27" height="26" fill="#111"/><text x="820" y="604" font-size="7" text-anchor="middle" fill="#aaa">ON</text>
<rect x="785" y="618" width="142" height="34" fill="#707072"/>
<circle cx="819" cy="634" r="9" fill="#141416"/><rect x="818" y="626" width="2.5" height="7" fill="#ddd"/>
<g fill="#2a2a2c"><rect x="843" y="622" width="11" height="6"/><rect x="855" y="622" width="10" height="6"/><rect x="866" y="622" width="11" height="6"/><rect x="843" y="630" width="11" height="7"/><rect x="855" y="630" width="10" height="7"/><rect x="866" y="630" width="11" height="7"/></g>
<circle cx="895" cy="633" r="6.5" fill="#444" stroke="#999"/><circle cx="915" cy="642" r="2.5" fill="#d9c82a"/>
<use href="#scr" x="787" y="640"/><use href="#scr" x="925" y="640"/>

<!-- PEDESTAL -->
<rect x="736" y="658" width="244" height="24" fill="#666668"/>
<rect x="736" y="682" width="244" height="131" fill="url(#thr)"/>
<rect x="956" y="659" width="8" height="18" fill="#999"/>
<g fill="#b5b5b5" stroke="#333"><circle cx="835" cy="673" r="3"/><circle cx="858" cy="673" r="3"/><circle cx="881" cy="673" r="3"/><circle cx="904" cy="673" r="3"/></g>
<g fill="none" stroke="#5a5a5c" stroke-width="1"><rect x="756" y="688" width="12" height="122" rx="4"/><rect x="769" y="688" width="62" height="122" rx="4"/><rect x="828" y="682" width="12" height="128" rx="4"/><rect x="852" y="682" width="12" height="128" rx="4"/><rect x="875" y="682" width="12" height="128" rx="4"/><rect x="898" y="682" width="12" height="128" rx="4"/><rect x="941" y="688" width="28" height="122" rx="4"/></g>
<path d="M818,722 H916 L922,731 V752 L916,760 H820 L813,752 V731Z" fill="#3c3c3e"/>
<g fill="#f0f0f0" stroke="#888"><rect x="818" y="725" width="28" height="31" rx="3"/><rect x="847" y="725" width="22" height="31" rx="3"/><rect x="870" y="725" width="22" height="31" rx="3"/><rect x="893" y="725" width="22" height="31" rx="3"/></g>
<g fill="#e8e8e8"><rect x="827" y="757" width="13" height="9" rx="2"/><rect x="852" y="757" width="13" height="9" rx="2"/><rect x="875" y="757" width="13" height="9" rx="2"/><rect x="898" y="757" width="13" height="9" rx="2"/></g>
<g font-size="16" font-weight="bold" fill="#222" text-anchor="middle"><text x="834" y="750">1</text><text x="858" y="750">2</text><text x="881" y="750">3</text><text x="904" y="750">4</text></g>
<path d="M732,692 H756 L760,698 V712 L756,720 H734 L732,718Z" fill="#ececec" stroke="#ddd"/>
<g fill="#f4f4f4"><rect x="771" y="695" width="5" height="5"/><rect x="751" y="770" width="5" height="8"/><rect x="771" y="770" width="5" height="8"/><rect x="751" y="793" width="5" height="6"/><rect x="771" y="793" width="5" height="6"/><rect x="825" y="762" width="5" height="6"/><rect x="825" y="779" width="5" height="8"/><rect x="840" y="779" width="12" height="8"/><rect x="864" y="779" width="12" height="8"/><rect x="887" y="779" width="12" height="8"/><rect x="910" y="779" width="5" height="8"/><rect x="910" y="762" width="5" height="6"/><rect x="928" y="770" width="5" height="7"/><rect x="943" y="772" width="5" height="5"/><rect x="928" y="792" width="5" height="6"/><rect x="942" y="792" width="5" height="6"/></g>
<rect x="939" y="730" width="28" height="42" rx="2" fill="#e9e9e9"/><text x="953" y="767" font-size="11.5" text-anchor="middle" fill="#222">FLAP</text>
<rect x="928" y="753" width="6" height="3" fill="#eee"/>
<g font-size="6" fill="#eee"><text x="738" y="776">OUT</text><text x="778" y="776">OUT</text><text x="778" y="792">LIFT</text><text x="778" y="798">SPLR</text><text x="807" y="775" font-size="7">FUEL</text><text x="812" y="767">ON</text><text x="811" y="785">OFF</text><text x="919" y="686">FLAP</text><text x="921" y="696">UP</text></g>
<!-- wheels -->
<g id="wh"><rect x="698" y="679" width="11" height="135" rx="3" fill="#3a3a3a"/><path d="M698,684 H709 M698,694 H709 M698,704 H709 M698,789 H709 M698,799 H709 M698,809 H709" stroke="#222" stroke-width="2"/><path d="M709,713 L730,728 V763 L709,774Z" fill="url(#whl)"/><rect x="730" y="733" width="6" height="25" fill="#141414"/></g>
<use href="#wh" transform="translate(1714,0) scale(-1,1)"/>
<!-- trim -->
<rect x="736" y="813" width="244" height="94" fill="#656567"/>
<rect x="736" y="812" width="244" height="2" fill="#444"/>
<path d="M760,830 Q795,812 830,830" fill="none" stroke="#3c3c3e" stroke-width="8" stroke-linecap="round"/>
<g fill="#111"><circle cx="793" cy="867" r="31"/><circle cx="793" cy="843" r="10"/><circle cx="810" cy="850" r="10"/><circle cx="817" cy="867" r="10"/><circle cx="810" cy="884" r="10"/><circle cx="793" cy="891" r="10"/><circle cx="776" cy="884" r="10"/><circle cx="769" cy="867" r="10"/><circle cx="776" cy="850" r="10"/></g><circle cx="793" cy="867" r="14" fill="#2b2b2d"/>
<path d="M795,820 V852" stroke="#d5801e" stroke-width="2"/>
<rect x="853" y="837" width="10" height="61" fill="#3c3c3e"/><path d="M851,858 H863" stroke="#d5801e" stroke-width="2"/><rect x="867" y="850" width="3" height="16" fill="#5aa07a"/>
<circle cx="912" cy="857" r="5.5" fill="#555" stroke="#999"/><circle cx="937" cy="857" r="5.5" fill="#555" stroke="#999"/><circle cx="962" cy="857" r="5.5" fill="#555" stroke="#999"/>
<path d="M903,897 Q936,886 970,897" fill="none" stroke="#3c3c3e" stroke-width="7" stroke-linecap="round"/><path d="M936,890 V900" stroke="#d5801e" stroke-width="2"/>
<g font-size="5" fill="#ddd"><text x="745" y="828">NOSE</text><text x="833" y="828">NOSE</text><text x="897" y="846">PANEL LT</text><text x="928" y="846">CONFIG</text><text x="955" y="846">HORN</text><text x="748" y="898">RUD TRIM</text><text x="847" y="905">ELEV TRIM</text></g>
<!-- lower -->
<rect x="736" y="907" width="244" height="61" fill="#666668"/><rect x="736" y="966" width="244" height="2" fill="#8c8c8e"/>
<path d="M750,908 H842 V966 H750Z" fill="#59595b"/><path d="M755,966 L760,928 H832 L838,966Z" fill="#8a8a8c"/>
<path d="M772,912 Q775,908 778,912 L783,932 Q780,955 775,955 Q770,955 767,932Z" fill="#d1201c"/><circle cx="775" cy="936" r="3.5" fill="#ccc"/>
<path d="M792,930 Q806,936 808,925 V916 Q815,910 822,916 V925 Q826,936 840,930 Q828,944 815,943 Q802,944 792,930Z" fill="#d1201c"/><circle cx="815" cy="936" r="3.5" fill="#ccc"/>
<text x="797" y="951" font-size="5" fill="#eee">PULL</text><text x="785" y="958" font-size="5" fill="#eee">DISCONNECT</text>
<rect x="845" y="908" width="48" height="57" rx="5" fill="#727274"/><rect x="856" y="931" width="30" height="7" fill="#e5e5e5"/><path d="M862,931 Q869,920 876,931" fill="none" stroke="#ccc" stroke-width="2.5"/><text x="862" y="949" font-size="5" fill="#eee">PULL TO</text><text x="853" y="956" font-size="5" fill="#eee">PARK ON YELLOW</text>
<g fill="#111"><circle cx="937" cy="937" r="27"/><circle cx="937" cy="916" r="9"/><circle cx="952" cy="922" r="9"/><circle cx="958" cy="937" r="9"/><circle cx="952" cy="952" r="9"/><circle cx="937" cy="958" r="7"/><circle cx="922" cy="952" r="9"/><circle cx="916" cy="937" r="9"/><circle cx="922" cy="922" r="9"/></g><circle cx="937" cy="937" r="13" fill="#2b2b2d"/><path d="M936,908 V926" stroke="#d5801e" stroke-width="2.5"/>

<!-- TOLD CARD -->
<rect x="835" y="478" width="92" height="134" fill="#ffffff"/>
<rect x="838" y="481" width="86" height="8" fill="#e4e7ee"/>
<g stroke="#445" stroke-width="1" fill="none"><rect x="838" y="489" width="34" height="12"/><rect x="872" y="489" width="28" height="12"/><rect x="900" y="489" width="24" height="12"/><rect x="836" y="502" width="32" height="10"/><rect x="869" y="502" width="27" height="10"/><rect x="897" y="502" width="27" height="10"/><rect x="838" y="514" width="30" height="15"/><rect x="870" y="512" width="22" height="18"/><rect x="893" y="512" width="30" height="18"/></g>
<text class="hw" x="877" y="500" font-size="12">36</text><text class="hw" x="839" y="498" font-size="7">168 86</text>
<text class="hw" x="838" y="511" font-size="11.5">93.0</text><text class="hw" x="871" y="511" font-size="11.5">88.1</text><text class="hw" x="899" y="511" font-size="11.5">88.0</text>
<text class="hw" x="841" y="520" font-size="7.5">4.0</text><text class="hw" x="838" y="528" font-size="7.5">37.5</text><text class="hw" x="874" y="525" font-size="12">24</text>
<rect x="900" y="515" width="20" height="1.5" fill="#23407a"/>
<text class="hw" x="838" y="566" font-size="8">410/41.1</text><text class="hw" x="902" y="566" font-size="9">1100</text>
<g fill="#aab" opacity=".7"><rect x="872" y="562" width="14" height="7"/></g>
<text class="hw" x="838" y="585" font-size="5.5">ADDNL DEPARTURE BRIEF</text><text class="hw" x="838" y="592" font-size="5.5">**** STRBLE AND QUEST</text>
<rect x="838" y="597" width="86" height="12" fill="none" stroke="#889" stroke-width=".7"/>
</g>

<!-- REVIEW BOX -->
<rect x="181" y="407" width="424" height="364" fill="#8a8a8a" filter="url(#bl)"/>
<rect x="178" y="403.5" width="424" height="364" fill="#fff" stroke="#444" stroke-width="1.5"/>
<rect x="190" y="416" width="400" height="25" fill="#000"/>
<text x="302" y="436" font-size="20" font-weight="bold" fill="#fff" textLength="176" lengthAdjust="spacingAndGlyphs">T<tspan font-size="16">AKE</tspan>-O<tspan font-size="16">FF</tspan> R<tspan font-size="16">EVIEW</tspan></text>
<text class="s" x="193" y="466" textLength="19" lengthAdjust="spacingAndGlyphs">PF</text>
<text class="s" x="235" y="466">“</text><text class="g" x="243" y="466" textLength="131" lengthAdjust="spacingAndGlyphs">Takeoff Review</text><text class="s" x="374" y="466">”</text>

<text class="s" x="193" y="490" textLength="26" lengthAdjust="spacingAndGlyphs">PM</text>
<text class="b" x="235" y="490" textLength="33" lengthAdjust="spacingAndGlyphs">Flap</text>
<text class="sm" x="274" y="490" textLength="233" lengthAdjust="spacingAndGlyphs">(TOLD C<tspan font-size="11">ARD</tspan>, S<tspan font-size="11">ELECTION</tspan>, I<tspan font-size="11">NDICATION</tspan>)</text>
<text class="s" x="512" y="490" textLength="23">.....</text><text class="s" x="539" y="490" textLength="48" lengthAdjust="spacingAndGlyphs">Check</text>

<text class="s" x="193" y="514" textLength="26" lengthAdjust="spacingAndGlyphs">PM</text>
<text class="b" x="235" y="514" textLength="65" lengthAdjust="spacingAndGlyphs">Runway</text>
<text class="sm" x="306" y="514" textLength="155" lengthAdjust="spacingAndGlyphs">(F<tspan font-size="11">MC</tspan>, T<tspan font-size="11">AXI</tspan> D<tspan font-size="11">ESTINATION</tspan>)</text>
<text class="s" x="462" y="514" textLength="73">...............</text><text class="s" x="541" y="514" textLength="46" lengthAdjust="spacingAndGlyphs">Verify</text>

<text class="s" x="193" y="539" textLength="26" lengthAdjust="spacingAndGlyphs">PM</text>
<text class="b" x="235" y="539" textLength="21" lengthAdjust="spacingAndGlyphs">V1</text>
<text class="sm" x="261" y="539" textLength="147" lengthAdjust="spacingAndGlyphs">(TOLD C<tspan font-size="11">ARD</tspan>, ASI B<tspan font-size="11">UG</tspan>)</text>
<text class="s" x="413" y="539" textLength="122">.........................</text><text class="s" x="541" y="539" textLength="46" lengthAdjust="spacingAndGlyphs">Verify</text>

<text class="s" x="193" y="563" textLength="26" lengthAdjust="spacingAndGlyphs">PM</text>
<text class="b" x="235" y="563" textLength="91" lengthAdjust="spacingAndGlyphs">FGS Modes</text>
<text class="sm" x="332" y="563" textLength="191" lengthAdjust="spacingAndGlyphs">(G<tspan font-size="11">REEN</tspan>, W<tspan font-size="11">HITE</tspan>, A<tspan font-size="11">LT</tspan> S<tspan font-size="11">EL</tspan>/A<tspan font-size="11">RM</tspan>)</text>
<text class="s" x="527" y="563" textLength="9">..</text><text class="s" x="541" y="563" textLength="46" lengthAdjust="spacingAndGlyphs">Verify</text>

<text class="s" x="193" y="587" textLength="26" lengthAdjust="spacingAndGlyphs">PM</text>
<text class="b" x="235" y="587" textLength="103" lengthAdjust="spacingAndGlyphs">Heading Bug</text>
<text class="sm" x="343" y="587" textLength="170" lengthAdjust="spacingAndGlyphs">(SID, EO P<tspan font-size="11">ROCEDURE</tspan>, ATC</text>
<text class="s" x="513" y="587" textLength="23">.....</text><text class="s" x="541" y="587" textLength="46" lengthAdjust="spacingAndGlyphs">Verify</text>

<text class="s" x="193" y="611" textLength="26" lengthAdjust="spacingAndGlyphs">PM</text>
<text class="b" x="235" y="611" textLength="26" lengthAdjust="spacingAndGlyphs">SID</text>
<text class="sm" x="267" y="611" textLength="114" lengthAdjust="spacingAndGlyphs">(F<tspan font-size="11">MC</tspan>, C<tspan font-size="11">LEARANCE</tspan>)</text>
<text class="s" x="386" y="611" textLength="152">................................</text><text class="s" x="541" y="611" textLength="46" lengthAdjust="spacingAndGlyphs">Verify</text>

<text class="p" x="194" y="647" textLength="391" lengthAdjust="spacingAndGlyphs">“This is a Flap 18 Take-off from Runway 15 with</text>
<text class="p" x="218" y="671" textLength="344" lengthAdjust="spacingAndGlyphs">a V1 of 127 knots. LNAV and PITCH Green,</text>
<text class="p" x="197" y="695" textLength="384" lengthAdjust="spacingAndGlyphs">Altitude 3000 Set and Armed. Initial Heading is</text>
<text class="p" x="258" y="719" textLength="262" lengthAdjust="spacingAndGlyphs">030 for the SWIFT 8 Departure.”</text>

<text class="s" x="193" y="755" textLength="26" lengthAdjust="spacingAndGlyphs">PM</text>
<text class="s" x="235" y="755">“</text><text class="g" x="243" y="755" textLength="229" lengthAdjust="spacingAndGlyphs">Take-Off Review Complete</text><text class="s" x="472" y="755">“</text>

<!-- ARROWS -->
<g fill="none" stroke="#ffff00" stroke-width="7.5">
<polyline points="947,146 1041,146 1041,282" marker-end="url(#ah)"/>
<polyline points="1079,316 1108,316 1108,479 1083,479" marker-end="url(#ah)"/>
<polyline points="927,706 691,706 691,216" marker-end="url(#ah)"/>
<line x1="724" y1="182" x2="961.4" y2="388.2" marker-end="url(#ah)"/>
<line x1="1027" y1="385" x2="924.3" y2="258" marker-end="url(#ah)"/>
<line x1="910" y1="211" x2="895.4" y2="178.4" marker-end="url(#ah)"/>
<line x1="880" y1="561" x2="949" y2="674.6" marker-end="url(#ah)"/>
</g>
<g fill="none" stroke="#ffff00" stroke-width="2.5">
<line x1="800" y1="116" x2="769" y2="83" marker-end="url(#as)"/>
<line x1="807" y1="123" x2="819" y2="137" marker-end="url(#as)"/>
</g>

<!-- LABELS -->
<g>
<rect x="689" y="41" width="142" height="32" fill="#002060"/><text class="l" x="707" y="63" textLength="106" lengthAdjust="spacingAndGlyphs">ALT Sel/Arm</text>
<rect x="827" y="130" width="120" height="31" fill="#002060"/><text class="l" x="839" y="152" textLength="96" lengthAdjust="spacingAndGlyphs">FGS Modes</text>
<rect x="660" y="166" width="64" height="32" fill="#002060"/><text class="l" x="674" y="188" textLength="36" lengthAdjust="spacingAndGlyphs">Flap</text>
<rect x="879" y="211" width="64" height="32" fill="#002060"/><text class="l" x="899" y="234" textLength="23" lengthAdjust="spacingAndGlyphs">V1</text>
<rect x="1003" y="300" width="76" height="32" fill="#002060"/><text class="l" x="1021" y="322" textLength="39" lengthAdjust="spacingAndGlyphs">HDG</text>
<rect x="975" y="385" width="103" height="32" fill="#002060"/><text class="l" x="992" y="407" textLength="69" lengthAdjust="spacingAndGlyphs">Runway</text>
<rect x="988" y="463" width="77" height="32" fill="#c00000"/><text class="l" x="1012" y="485" textLength="29" lengthAdjust="spacingAndGlyphs">SID</text>
<rect x="843" y="529" width="76" height="32" fill="#006414"/><text class="l" x="863" y="551" textLength="35" lengthAdjust="spacingAndGlyphs">Flap</text>
<rect x="927" y="690" width="64" height="33" fill="#002060"/><text class="l" x="941" y="713" textLength="36" lengthAdjust="spacingAndGlyphs">Flap</text>
</g>
</svg>
</body></html>
